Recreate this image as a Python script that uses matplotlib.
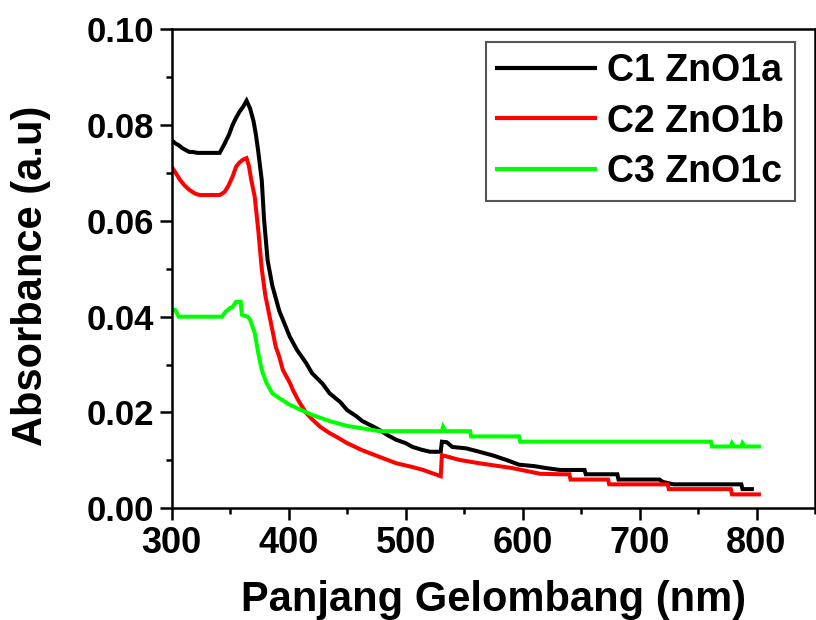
import matplotlib
matplotlib.use("Agg")
import matplotlib.pyplot as plt
from matplotlib.ticker import MultipleLocator

plt.rcParams['font.family'] = ['Liberation Sans', 'DejaVu Sans']
plt.rcParams['font.weight'] = 'bold'

# C1 ZnO1a (black)
wl_c1 = [300, 303, 306, 309, 312, 315, 318, 322, 341, 345, 349, 352, 355, 358, 361, 364,
         367, 370, 372, 374, 377, 379, 382, 386, 392, 401, 407, 415, 420, 429, 435, 444,
         450, 458, 463, 472, 478, 485, 492, 500, 506, 514, 521, 530, 531, 535, 540, 552,
         563, 575, 586, 597, 610, 620, 632, 653, 654, 681, 682, 717, 720, 729, 787, 788, 796]
abs_c1 = [0.0769, 0.0762, 0.0758, 0.0752, 0.0748, 0.0744, 0.0744, 0.0742, 0.0742, 0.0760,
          0.0780, 0.0800, 0.0815, 0.0828, 0.0838, 0.0851, 0.0835, 0.0808, 0.0780, 0.0745,
          0.0685, 0.0602, 0.0518, 0.0465, 0.0412, 0.0358, 0.0331, 0.0303, 0.0282, 0.0260,
          0.0240, 0.0222, 0.0205, 0.0192, 0.0182, 0.0171, 0.0163, 0.0152, 0.0143, 0.0136,
          0.0128, 0.0122, 0.0118, 0.0118, 0.0139, 0.0138, 0.0128, 0.0125, 0.0118, 0.0110,
          0.0101, 0.0091, 0.0088, 0.0084, 0.0080, 0.0080, 0.0071, 0.0071, 0.0060, 0.0060,
          0.0055, 0.0050, 0.0050, 0.0040, 0.0040]

# C2 ZnO1b (red)
wl_c2 = [300, 304, 307, 311, 315, 320, 324, 341, 345, 348, 352, 355, 358, 361, 364, 366,
         368, 371, 374, 377, 380, 385, 389, 392, 395, 401, 404, 409, 415, 420, 427, 435,
         441, 450, 463, 478, 492, 506, 515, 523, 530, 531, 546, 563, 591, 615, 632, 640,
         641, 673, 674, 724, 725, 778, 779, 802]
abs_c2 = [0.0713, 0.0698, 0.0686, 0.0674, 0.0665, 0.0657, 0.0654, 0.0654, 0.0660, 0.0671,
          0.0692, 0.0713, 0.0722, 0.0728, 0.0731, 0.0715, 0.0686, 0.0650, 0.0581, 0.0500,
          0.0445, 0.0385, 0.0337, 0.0316, 0.0289, 0.0262, 0.0245, 0.0222, 0.0199, 0.0186,
          0.0170, 0.0157, 0.0149, 0.0136, 0.0121, 0.0107, 0.0094, 0.0086, 0.0080, 0.0073,
          0.0067, 0.0111, 0.0101, 0.0094, 0.0084, 0.0072, 0.0071, 0.0071, 0.0060, 0.0060,
          0.0050, 0.0050, 0.0040, 0.0040, 0.0029, 0.0029]

# C3 ZnO1c (green)
wl_c3 = [300, 303, 306, 343, 346, 350, 352, 355, 359, 360, 365, 367, 369, 371, 374, 377,
         381, 386, 392, 401, 409, 420, 435, 450, 465, 478, 531, 532, 534, 555, 556, 597,
         598, 761, 762, 778, 779, 781, 787, 788, 790, 802]
abs_c3 = [0.0414, 0.0414, 0.0400, 0.0400, 0.0410, 0.0418, 0.0420, 0.0431, 0.0431, 0.0404,
          0.0400, 0.0394, 0.0380, 0.0366, 0.0324, 0.0289, 0.0262, 0.0240, 0.0230, 0.0216,
          0.0207, 0.0195, 0.0182, 0.0172, 0.0166, 0.0161, 0.0161, 0.0170, 0.0161, 0.0161,
          0.0150, 0.0150, 0.0139, 0.0139, 0.0129, 0.0129, 0.0136, 0.0129, 0.0129, 0.0136,
          0.0129, 0.0129]

labels = ['C1 ZnO1a', 'C2 ZnO1b', 'C3 ZnO1c']
colors = ['#000000', '#ff0000', '#00ff00']

fig = plt.figure(figsize=(8.16, 6.2), dpi=100)
ax = fig.add_axes([0.2104, 0.1802, 0.7884, 0.7725])

for x, y, lab, c in zip([wl_c1, wl_c2, wl_c3], [abs_c1, abs_c2, abs_c3], labels, colors):
    ax.plot(x, y, color=c, lw=2.9, label=lab, solid_joinstyle='miter')

ax.set_xlim(300, 850)
ax.set_ylim(0, 0.10)
ax.set_xticks([300, 400, 500, 600, 700, 800])
ax.xaxis.set_minor_locator(MultipleLocator(50))
ax.set_yticks([0.00, 0.02, 0.04, 0.06, 0.08, 0.10])
ax.set_yticklabels(['0.00', '0.02', '0.04', '0.06', '0.08', '0.10'])
ax.yaxis.set_minor_locator(MultipleLocator(0.01))

for s in ax.spines.values():
    s.set_linewidth(1.8)
ax.tick_params(which='major', direction='out', length=8.5, width=1.8, labelsize=25, pad=4)
ax.tick_params(axis='x', which='major', labelsize=26)
ax.tick_params(which='minor', direction='out', length=4.3, width=1.8)

ax.set_xlabel('Panjang Gelombang (nm)', fontsize=30, fontweight='bold')
ax.set_ylabel('Absorbance (a.u)', fontsize=30, fontweight='bold')
ax.xaxis.set_label_coords(0.5, -0.15)
ax.yaxis.set_label_coords(-0.187, 0.485)

leg = ax.legend(loc='upper right', bbox_to_anchor=(0.969, 0.9735), borderaxespad=0,
                fontsize=27, handlelength=2.6, handletextpad=0.32, labelspacing=0.38,
                borderpad=0.3, fancybox=False, framealpha=1, edgecolor='#555555')
leg.get_frame().set_linewidth(1.5)
for line in leg.get_lines():
    line.set_linewidth(3)

fig.savefig('out.png', dpi=100)
